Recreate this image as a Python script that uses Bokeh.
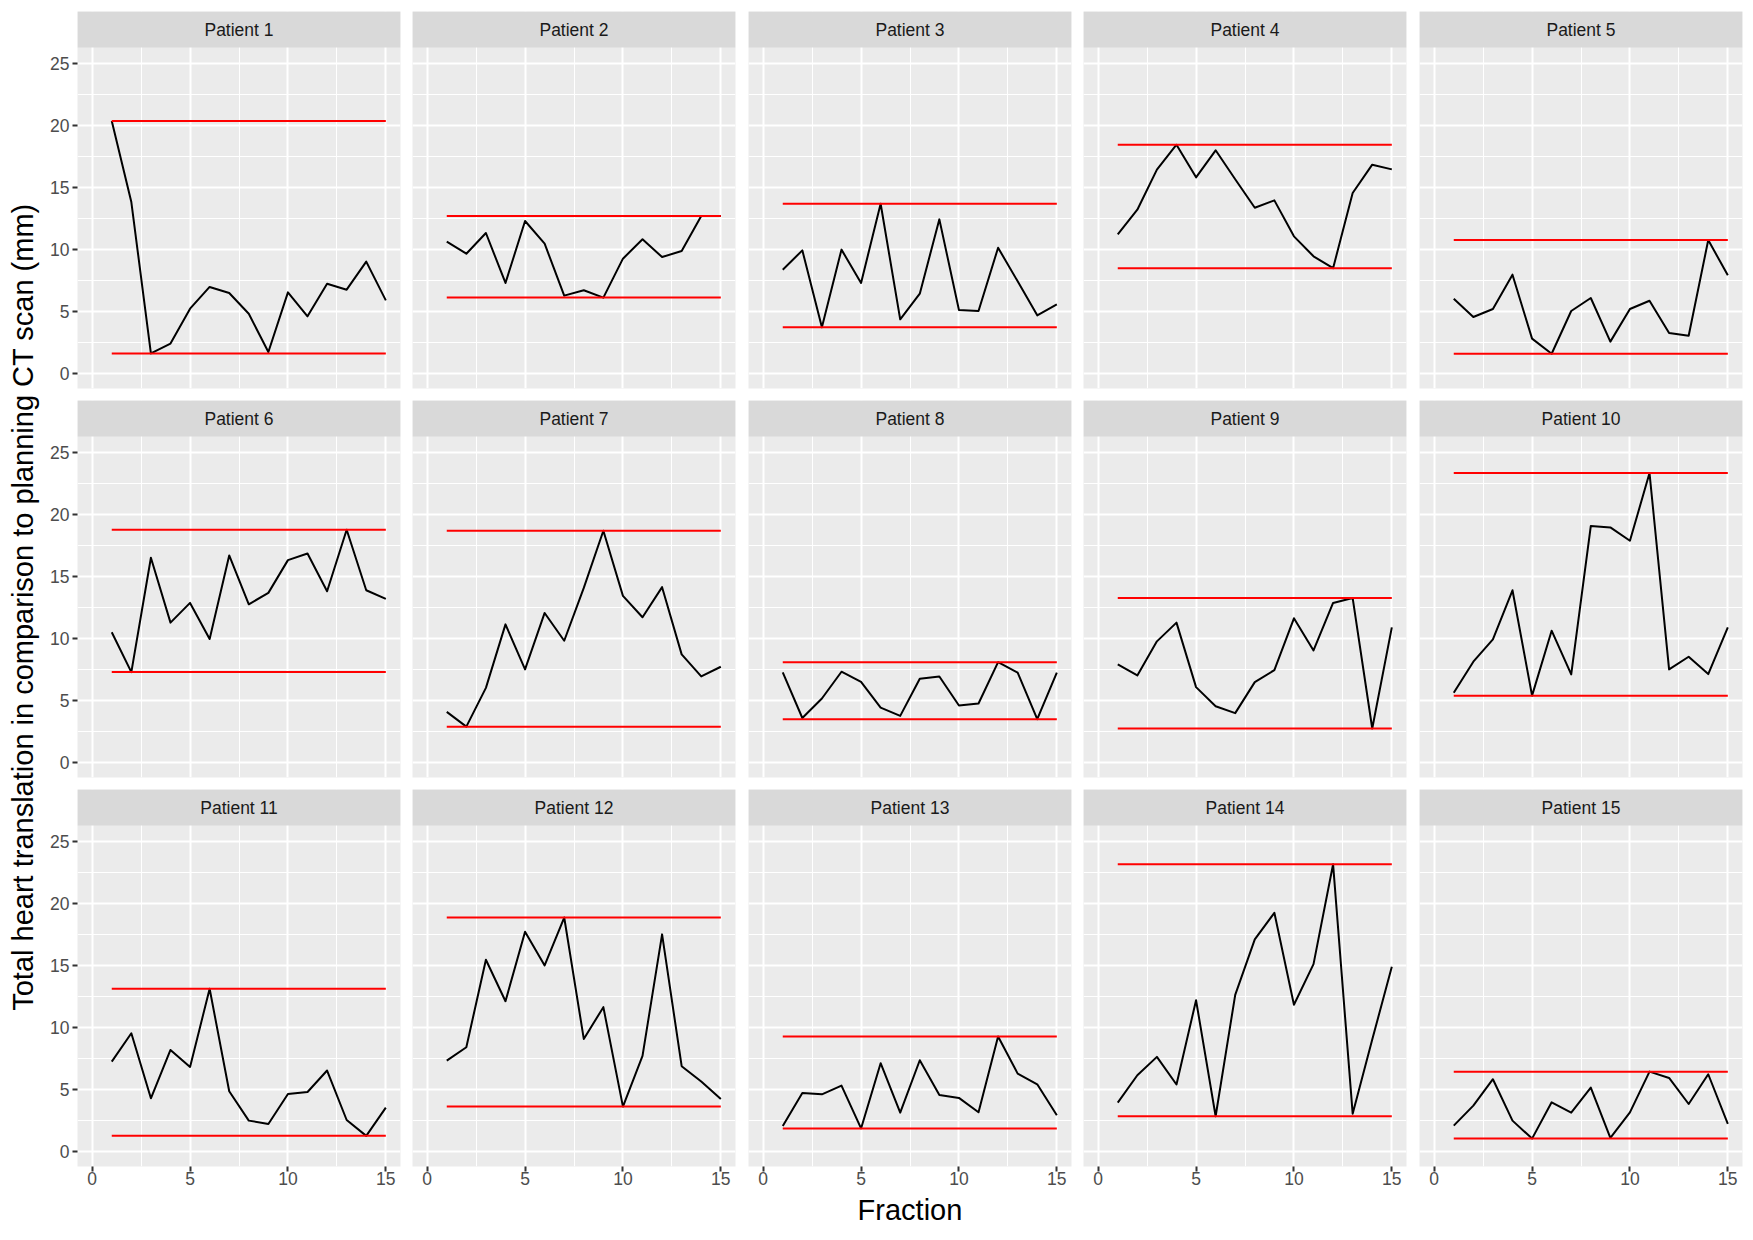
import math
from bokeh.plotting import figure
from bokeh.layouts import gridplot, row
from bokeh.models import FixedTicker, BoxAnnotation, Label, Range1d
from bokeh.embed import file_html
from bokeh.resources import INLINE

# ---------------- data ----------------
fractions = list(range(1, 16))

patient_1 = [20.32, 13.79, 1.58, 2.37, 5.19, 6.94, 6.45, 4.78, 1.69, 6.50, 4.57, 7.20, 6.72, 8.98, 5.86]
patient_2 = [10.59, 9.62, 11.29, 7.26, 12.26, 10.43, 6.24, 6.67, 6.08, 9.22, 10.78, 9.35, 9.84, 12.66, 12.66]
patient_3 = [8.33, 9.89, 3.68, 9.95, 7.26, 13.65, 4.33, 6.40, 12.39, 5.08, 5.00, 10.10, 7.39, 4.65, 5.54]
patient_4 = [11.18, 13.17, 16.40, 18.41, 15.78, 17.96, 15.62, 13.33, 13.92, 11.02, 9.41, 8.45, 14.52, 16.80, 16.42]
patient_5 = [5.99, 4.52, 5.16, 7.93, 2.77, 1.55, 5.00, 6.05, 2.53, 5.16, 5.83, 3.23, 3.01, 10.72, 7.88]
patient_6 = [10.46, 7.25, 16.47, 11.24, 12.83, 9.92, 16.66, 12.72, 13.64, 16.28, 16.82, 13.77, 18.73, 13.85, 13.15]
patient_7 = [4.04, 2.85, 5.98, 11.10, 7.47, 12.02, 9.78, 14.04, 18.65, 13.40, 11.67, 14.10, 8.68, 6.90, 7.68]
patient_8 = [7.22, 3.55, 5.12, 7.28, 6.47, 4.39, 3.72, 6.71, 6.90, 4.56, 4.72, 8.05, 7.20, 3.45, 7.20]
patient_9 = [7.87, 6.98, 9.73, 11.24, 6.04, 4.50, 3.94, 6.44, 7.41, 11.59, 9.00, 12.83, 13.22, 2.70, 10.86]
patient_10 = [5.58, 8.09, 9.89, 13.85, 5.35, 10.59, 7.06, 19.03, 18.92, 17.84, 23.30, 7.47, 8.49, 7.09, 10.86]
patient_11 = [7.21, 9.50, 4.25, 8.15, 6.78, 13.08, 4.82, 2.45, 2.18, 4.60, 4.76, 6.49, 2.50, 1.22, 3.50]
patient_12 = [7.29, 8.37, 15.42, 12.08, 17.68, 14.96, 18.83, 9.04, 11.60, 3.58, 7.67, 17.47, 6.84, 5.60, 4.20]
patient_13 = [2.02, 4.68, 4.57, 5.27, 1.82, 7.08, 3.09, 7.32, 4.52, 4.28, 3.12, 9.23, 6.24, 5.38, 2.88]
patient_14 = [3.90, 6.11, 7.59, 5.36, 12.16, 2.80, 12.59, 17.06, 19.21, 11.79, 15.07, 23.12, 3.01, 8.99, 14.85]
patient_15 = [2.05, 3.66, 5.79, 2.45, 1.00, 3.93, 3.09, 5.11, 1.05, 3.12, 6.40, 5.89, 3.79, 6.19, 2.18]

upper_limit = [20.32, 12.66, 13.65, 18.41, 10.72, 18.73, 18.65, 8.05, 13.22, 23.30, 13.08, 18.83, 9.23, 23.12, 6.40]
lower_limit = [1.58, 6.08, 3.68, 8.45, 1.55, 7.25, 2.85, 3.45, 2.70, 5.35, 1.22, 3.58, 1.82, 2.80, 1.00]

series = [patient_1, patient_2, patient_3, patient_4, patient_5,
          patient_6, patient_7, patient_8, patient_9, patient_10,
          patient_11, patient_12, patient_13, patient_14, patient_15]
patient_names = ["Patient 1", "Patient 2", "Patient 3", "Patient 4", "Patient 5",
                 "Patient 6", "Patient 7", "Patient 8", "Patient 9", "Patient 10",
                 "Patient 11", "Patient 12", "Patient 13", "Patient 14", "Patient 15"]

y_ticks = [0, 5, 10, 15, 20, 25]
y_minor = [2.5, 7.5, 12.5, 17.5, 22.5]
x_ticks = [0, 5, 10, 15]
x_minor = [2.5, 7.5, 12.5]

x_title = "Fraction"
y_title = "Total heart translation in comparison to planning CT scan (mm)"

# ---------------- layout / style ----------------
FONT = "Liberation Sans"
TITLE_SIZE = "29px"
PANEL_W, PANEL_H, STRIP_H = 323, 341, 36
X_LO, X_HI = -0.75, 15.75
Y_LO, Y_HI = -1.25, 26.25
Y_TOP = Y_HI + STRIP_H * (Y_HI - Y_LO) / PANEL_H

TITLE_W = 44
col_left = [33, 6, 6, 6, 6]
col_right = [6, 7, 6, 7, 8]
row_top = [11, 6, 6]
row_bottom = [6, 6, 70]
TOTAL_H = sum(row_top) + sum(row_bottom) + 3 * (PANEL_H + STRIP_H)

rows = []
for r in range(3):
    prow = []
    for c in range(5):
        k = r * 5 + c
        p = figure(
            frame_width=PANEL_W, frame_height=PANEL_H + STRIP_H,
            x_range=Range1d(X_LO, X_HI), y_range=Range1d(Y_LO, Y_TOP),
            output_backend="svg", toolbar_location=None, tools="",
            min_border_left=col_left[c], min_border_right=col_right[c],
            min_border_top=row_top[r], min_border_bottom=row_bottom[r],
        )
        p.background_fill_color = "#EBEBEB"
        p.border_fill_color = "white"
        p.outline_line_color = None

        xt = FixedTicker(ticks=x_ticks, minor_ticks=x_minor)
        yt = FixedTicker(ticks=y_ticks, minor_ticks=y_minor)
        p.xaxis.ticker = xt
        p.yaxis.ticker = yt
        p.xgrid.ticker = xt
        p.ygrid.ticker = yt
        for g in (p.xgrid, p.ygrid):
            g.grid_line_color = "white"
            g.grid_line_width = 2
            g.minor_grid_line_color = "white"
            g.minor_grid_line_width = 1

        for ax in (p.xaxis, p.yaxis):
            ax.axis_line_color = None
            ax.minor_tick_line_color = None
            ax.major_tick_out = 5
            ax.major_tick_in = 0
            ax.major_tick_line_color = "#333333"
            ax.major_tick_line_width = 2
            ax.major_label_text_font = FONT
            ax.major_label_text_font_size = "17.5px"
            ax.major_label_text_color = "#4D4D4D"
            ax.axis_label_text_font = FONT
            ax.axis_label_text_font_size = TITLE_SIZE
            ax.axis_label_text_font_style = "normal"
            ax.axis_label_text_color = "black"
        p.yaxis.major_label_standoff = 3
        p.xaxis.major_label_standoff = 0

        p.xaxis.visible = (r == 2)
        p.yaxis.visible = (c == 0)
        if r == 2 and c == 2:
            p.xaxis.axis_label = x_title
            p.xaxis.axis_label_standoff = 6

        p.line(fractions, series[k], line_color="black", line_width=2, line_join="round")
        p.segment(x0=[fractions[0], fractions[0]], x1=[fractions[-1], fractions[-1]],
                  y0=[upper_limit[k], lower_limit[k]], y1=[upper_limit[k], lower_limit[k]],
                  line_color="#FF0000", line_width=2)

        strip = BoxAnnotation(left=X_LO, right=X_HI, bottom=Y_HI, top=Y_TOP,
                              fill_color="#D9D9D9", fill_alpha=1.0, line_color=None)
        p.add_layout(strip)
        p.add_layout(Label(x=(X_LO + X_HI) / 2, y=(Y_HI + Y_TOP) / 2, text=patient_names[k],
                           text_align="center", text_baseline="middle",
                           text_font=FONT, text_font_size="17.5px", text_color="#1A1A1A"))
        prow.append(p)
    rows.append(prow)

grid = gridplot(rows, toolbar_location=None)

# narrow figure carrying the shared y-axis title, centred on the panel block (below the first strip row)
panel_top = row_top[0] + STRIP_H
panel_bottom = TOTAL_H - row_bottom[2]
tf = figure(width=TITLE_W, height=TOTAL_H, x_range=Range1d(0, TITLE_W), y_range=Range1d(0, TOTAL_H),
            output_backend="svg", toolbar_location=None, tools="",
            min_border=0, x_axis_type=None, y_axis_type=None)
tf.outline_line_color = None
tf.background_fill_color = "white"
tf.border_fill_color = "white"
tf.grid.visible = False
tf.add_layout(Label(x=22, y=TOTAL_H - (panel_top + panel_bottom) / 2, text=y_title,
                    angle=math.pi / 2, text_align="center", text_baseline="middle",
                    text_font=FONT, text_font_size=TITLE_SIZE, text_color="black"))

layout = row(tf, grid)

open("out.html", "w").write(file_html(layout, INLINE))
